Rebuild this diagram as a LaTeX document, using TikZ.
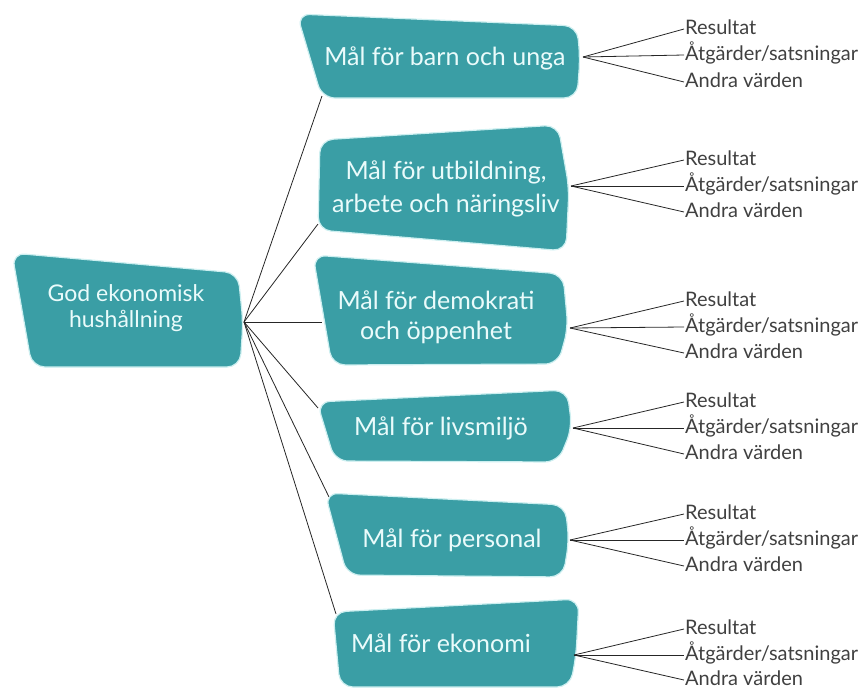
\documentclass[tikz,border=0pt]{standalone}
\usepackage{fontspec}
\setmainfont{Lato}
\definecolor{teal1}{HTML}{3A9EA5}
\definecolor{halo}{HTML}{CDEFF0}
\definecolor{boxtext}{HTML}{EAFBFB}
\definecolor{lbl}{HTML}{404040}
\begin{document}
\begin{tikzpicture}[x=1pt,y=-1pt,
  shapebox/.style={fill=teal1, draw=halo, line width=1.2pt, rounded corners=13pt},
  boxtxt/.style={text=boxtext, font=\fontsize{25}{30}\selectfont, align=center, inner sep=0pt},
  lbltxt/.style={text=lbl, font=\fontsize{20}{24}\selectfont, anchor=west, inner sep=1pt, text height=14pt, text depth=3pt},
  conn/.style={draw=black!85, line width=0.8pt}]
\useasboundingbox (0,0) rectangle (862,689);

% connector points
\coordinate (mc) at (244,322);
\coordinate (c1) at (322,96);
\coordinate (c2) at (318,224);
\coordinate (c3) at (322,322);
\coordinate (c4) at (318,408);
\coordinate (c5) at (329,497);
\coordinate (c6) at (336,614);
\foreach \i in {1,...,6} {\draw[conn] (mc) -- (c\i);}

% shapes
\path[shapebox] (12,253) -- (238,273) -- (243,322) -- (240,367) -- (32,367) -- cycle;
\path[shapebox] (297,14) -- (577,26) -- (580,58) -- (577,98) -- (322,98) -- cycle;
\path[shapebox] (320,140) -- (558,125) -- (569,188) -- (566,251) -- (318,230) -- cycle;
\path[shapebox] (313,255) -- (563,274) -- (568,328) -- (558,364) -- (332,365) -- cycle;
\path[shapebox] (317,402) -- (567,390) -- (572,428) -- (558,462) -- (335,461) -- cycle;
\path[shapebox] (325,493) -- (565,505) -- (569,540) -- (563,577) -- (347,575) -- cycle;
\path[shapebox] (333,612) -- (579,599) -- (576,656) -- (570,687) -- (340,687) -- cycle;

% texts
\node[boxtxt, font=\fontsize{23}{26}\selectfont] (main) at (126,308) {God ekonomisk\\hushållning};
\node[boxtxt] (m1) at (445,58) {Mål för barn och unga};
\node[boxtxt, font=\fontsize{25}{33}\selectfont] (m2) at (446,189) {Mål för utbildning,\\arbete och näringsliv};
\node[boxtxt, font=\fontsize{25}{30}\selectfont] (m3) at (436,317) {Mål för demokrati\\och öppenhet};
\node[boxtxt] (m4) at (441,428) {Mål för livsmiljö};
\node[boxtxt] (m5) at (452,540) {Mål för personal};
\node[boxtxt] (m6) at (441,643) {Mål för ekonomi};

% fans
\foreach \g/\fx/\fy/\r/\a/\d in {1/583/57/29/55/82, 2/571/186/160/186/212, 3/570/328/301/327/353, 4/573/428/402/428/454, 5/570/540/514/540/566, 6/574/655/629/655/680} {
  \coordinate (f\g) at (\fx,\fy);
  \node[lbltxt] (r\g) at (684,\r) {Resultat};
  \node[lbltxt] (a\g) at (684,\a) {Åtgärder/satsningar};
  \node[lbltxt] (d\g) at (684,\d) {Andra värden};
  \draw[conn] (f\g) -- (r\g.west);
  \draw[conn] (f\g) -- (a\g.west);
  \draw[conn] (f\g) -- (d\g.west);
}
\end{tikzpicture}
\end{document}
